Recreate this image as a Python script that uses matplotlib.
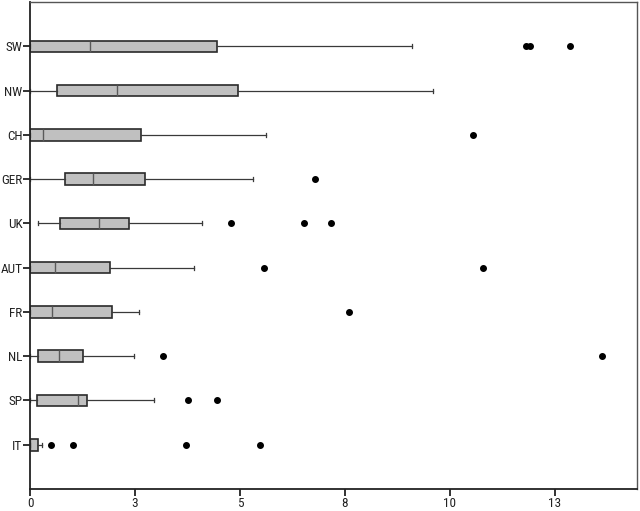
import matplotlib
matplotlib.use("Agg")
from matplotlib import pyplot as plt
from matplotlib import font_manager

# countries, top to bottom as in the picture
countries = ["SW", "NW", "CH", "GER", "UK", "AUT", "FR", "NL", "SP", "IT"]

whisker_low = [0.0, 0.0, 0.0, 0.0, 0.18, 0.0, 0.0, 0.0, 0.0, 0.0]
q1 = [0.0, 0.63, 0.0, 0.83, 0.72, 0.0, 0.0, 0.18, 0.17, 0.0]
medians = [1.43, 2.08, 0.30, 1.49, 1.65, 0.60, 0.53, 0.68, 1.13, 0.0]
q3 = [4.44, 4.95, 2.64, 2.74, 2.35, 1.90, 1.95, 1.25, 1.35, 0.18]
whisker_high = [9.10, 9.60, 5.62, 5.30, 4.10, 3.91, 2.60, 2.47, 2.94, 0.29]
outliers = [
    [11.80, 11.90, 12.85],
    [],
    [10.56],
    [6.79],
    [4.79, 6.52, 7.17],
    [5.56, 10.79],
    [7.60],
    [3.16, 13.62],
    [3.75, 4.44],
    [0.50, 1.02, 3.71, 5.48],
]

tick_values = [0, 2.5, 5, 7.5, 10, 12.5]
tick_labels = ["0", "3", "5", "8", "10", "13"]

names = {f.name for f in font_manager.fontManager.ttflist}
narrow = [n for n in ["Liberation Sans Narrow", "Arial Narrow", "Roboto Condensed",
                      "Open Sans Condensed"] if n in names]
plt.rcParams["font.family"] = narrow + ["DejaVu Sans"]
plt.rcParams["font.stretch"] = "condensed"

stats = []
for i in range(len(countries)):
    stats.append({
        "label": countries[i],
        "whislo": whisker_low[i],
        "q1": q1[i],
        "med": medians[i],
        "q3": q3[i],
        "whishi": whisker_high[i],
        "fliers": outliers[i],
    })

positions = list(range(len(countries), 0, -1))

fig = plt.figure(figsize=(6.4, 5.11), dpi=100)
ax = fig.add_axes([0.047, 0.043, 0.948, 0.953])

ax.bxp(stats, positions=positions, vert=False, widths=0.26, patch_artist=True,
       boxprops=dict(facecolor="#c0c0c0", edgecolor="#2a2a2a", linewidth=1.2),
       medianprops=dict(color="#5a5a5a", linewidth=1.0),
       whiskerprops=dict(color="#3a3a3a", linewidth=0.9),
       capprops=dict(color="#3a3a3a", linewidth=0.9),
       capwidths=0.09,
       flierprops=dict(marker="o", markerfacecolor="black", markeredgecolor="black",
                       markersize=4, linestyle="none"))

ax.set_xlim(0, 14.45)
ax.set_ylim(0, 11)
ax.set_xticks(tick_values)
ax.set_xticklabels(tick_labels)
ax.set_yticks(positions)
ax.set_yticklabels(countries)

for side in ["left", "bottom"]:
    ax.spines[side].set_linewidth(1.3)
    ax.spines[side].set_color("#222222")
for side in ["top", "right"]:
    ax.spines[side].set_linewidth(1.0)
    ax.spines[side].set_color("#555555")

ax.tick_params(axis="both", direction="out", length=5, width=1.3, colors="#222222",
               labelsize=9.5, pad=0.5)

fig.savefig("out.png", dpi=100)
